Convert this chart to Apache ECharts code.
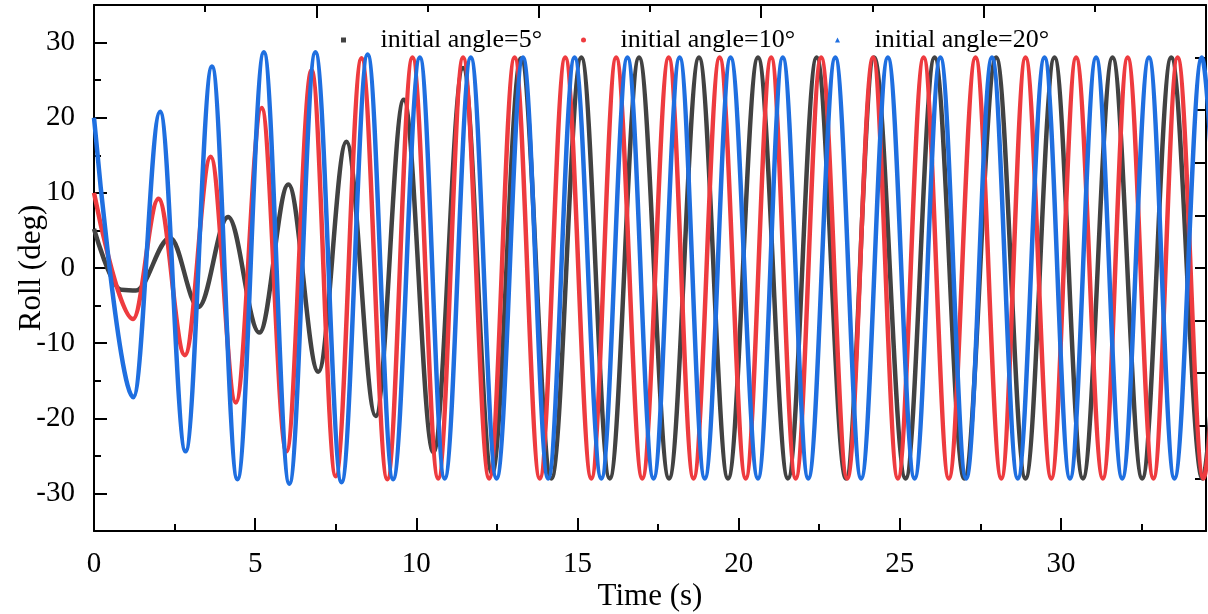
<!DOCTYPE html>
<html>
<head>
<meta charset="utf-8">
<script src="https://cdn.jsdelivr.net/npm/echarts@6/dist/echarts.min.js"></script>
<style>
html,body{margin:0;padding:0;background:#fff;}
#chart{width:1208px;height:614px;}
</style>
</head>
<body>
<div id="chart"></div>
<script>
// ---- data (time s, roll deg) : extrema ----
const seriesNames = ['initial angle=5°', 'initial angle=10°', 'initial angle=20°'];
const angle5 = [[0,5.2],[0.85,-2.9],[1.3,-3.0],[2.36,4.0],[3.24,-5.2],[4.16,6.8],[5.13,-8.6],[6.03,11.1],[6.96,-13.8],[7.83,16.8],[8.74,-19.7],[9.61,22.4],[10.53,-24.5],[11.45,26.6],[12.35,-27.3],[13.25,27.9],[14.19,-28],[15.12,28],[16.0,-28],[16.91,28],[17.84,-28],[18.77,28],[19.67,-28],[20.6,28],[21.53,-28],[22.42,28],[23.33,-28],[24.2,28],[25.18,-28],[26.08,28],[27.0,-28],[27.99,28],[28.9,-28],[29.8,28],[30.68,-28],[31.6,28],[32.52,-28],[33.42,28],[34.39,-28],[35.2,28]];
const angle10 = [[0,10],[1.21,-6.8],[2.0,9.2],[2.82,-11.6],[3.62,14.8],[4.40,-17.9],[5.2,21.3],[5.97,-24.4],[6.75,26.3],[7.5,-27.7],[8.3,27.9],[9.1,-28.1],[9.88,28],[10.68,-28],[11.45,28],[12.26,-28],[13.05,28],[13.83,-28],[14.62,28],[15.43,-28],[16.2,28],[17.01,-28],[17.83,28],[18.6,-28],[19.41,28],[20.22,-28],[21.01,28],[21.77,-28],[22.56,28],[23.37,-28],[24.17,28],[24.94,-28],[25.74,28],[26.52,-28],[27.35,28],[28.15,-28],[28.9,28],[29.7,-28],[30.47,28],[31.3,-28],[32.07,28],[32.87,-28],[33.62,28],[34.42,-28],[35.2,28]];
const angle20 = [[0,20],[1.22,-17.2],[2.05,20.8],[2.84,-24.4],[3.66,26.8],[4.45,-28.1],[5.27,28.7],[6.06,-28.7],[6.87,28.7],[7.68,-28.5],[8.49,28.4],[9.28,-28.1],[10.11,28],[10.88,-28],[11.69,28],[12.49,-28],[13.31,28],[14.09,-28],[14.91,28],[15.74,-28],[16.55,28],[17.36,-28],[18.17,28],[18.95,-28],[19.75,28],[20.6,-28],[21.37,28],[22.16,-28],[23.0,28],[23.8,-28],[24.63,28],[25.46,-28],[26.26,28],[27.06,-28],[27.86,28],[28.66,-28],[29.49,28],[30.28,-28],[31.09,28],[31.9,-28],[32.73,28],[33.52,-28],[34.37,28],[35.1,-28]];

const xMajorTicks = [0, 5, 10, 15, 20, 25, 30];
const xMinorTicks = [2.5, 7.5, 12.5, 17.5, 22.5, 27.5, 32.5];
const yMajorTicks = [-30, -20, -10, 0, 10, 20, 30];
const yMinorTicks = [-25, -15, -5, 5, 15, 25];
const rightTicks = [1, 2, 3, 4, 5, 6, 7, 8, 9];

// ---- styles ----
const FONT = 'Liberation Serif';
const colors = ['#424242', '#ee3b3f', '#1f6fe0'];
const axisLineStyle = { color: '#000', width: 2 };
const legendLefts = [341, 581, 835];
const legendIcons = ['path://M0,0L10,0L10,10L0,10Z', 'circle', 'path://M5,0L10,10L0,10Z'];
const GRID = { left: 94, right: 2, top: 5, bottom: 83 };
const invisibleLabel = { show: true, color: 'rgba(0,0,0,0)', fontSize: 8 };

const chart = echarts.init(document.getElementById('chart'), null, { renderer: 'canvas' });

function hiddenAxisBase(extra) {
  return Object.assign({
    type: 'value',
    splitLine: { show: false },
    axisLabel: { show: false },
    axisLine: { show: false, onZero: false },
    nameMoveOverlap: false
  }, extra);
}

const option = {
  animation: false,
  backgroundColor: '#fff',
  grid: [
    Object.assign({ containLabel: false, outerBoundsMode: 'none' }, GRID),
    // second grid with the same rectangle, only for the top frame ticks
    Object.assign({ containLabel: false, outerBoundsMode: 'none' }, GRID)
  ],
  legend: seriesNames.map((n, i) => ({
    left: legendLefts[i], top: 27, padding: 0,
    itemWidth: 64, itemHeight: 5,
    textStyle: { fontFamily: FONT, fontSize: 26, color: '#000' },
    data: [{ name: n, icon: legendIcons[i] }]
  })),
  xAxis: [
    {
      type: 'value', gridIndex: 0, position: 'bottom', min: 0, max: 34.5,
      name: 'Time (s)', nameLocation: 'middle', nameGap: 50, nameMoveOverlap: false,
      nameTextStyle: { fontFamily: FONT, fontSize: 31, color: '#000' },
      axisLine: { show: true, onZero: false, lineStyle: axisLineStyle },
      axisTick: { show: true, inside: true, length: 13, customValues: xMajorTicks, lineStyle: axisLineStyle },
      axisLabel: { show: true, customValues: xMajorTicks, margin: 19, fontFamily: FONT, fontSize: 29, color: '#000' },
      splitLine: { show: false }
    },
    hiddenAxisBase({
      gridIndex: 0, position: 'bottom', min: 0, max: 34.5,
      axisTick: { show: true, inside: true, length: 7, customValues: xMinorTicks, lineStyle: axisLineStyle }
    }),
    // top frame axis: long ticks every 2 units, short minor ticks between
    {
      type: 'value', gridIndex: 1, position: 'top', min: 0, max: 10, interval: 2,
      zlevel: 1, z: 10,
      axisLine: { show: true, onZero: false, lineStyle: axisLineStyle },
      axisTick: { show: true, inside: true, length: 13, lineStyle: axisLineStyle },
      minorTick: { show: true, splitNumber: 2, length: 7, lineStyle: axisLineStyle },
      axisLabel: invisibleLabel,
      splitLine: { show: false }, minorSplitLine: { show: false }
    }
  ],
  yAxis: [
    {
      type: 'value', gridIndex: 0, position: 'left', min: -35, max: 35,
      name: 'Roll (deg)', nameLocation: 'middle', nameGap: 47, nameMoveOverlap: false,
      nameTextStyle: { fontFamily: FONT, fontSize: 31, color: '#000' },
      axisLine: { show: true, onZero: false, lineStyle: axisLineStyle },
      axisTick: { show: true, inside: true, length: 13, customValues: yMajorTicks, lineStyle: axisLineStyle },
      axisLabel: { show: true, customValues: yMajorTicks, margin: 19, fontFamily: FONT, fontSize: 29, color: '#000' },
      splitLine: { show: false }
    },
    hiddenAxisBase({
      gridIndex: 0, position: 'right', min: 0, max: 10,
      axisLine: { show: true, onZero: false, lineStyle: axisLineStyle },
      axisTick: { show: true, inside: true, length: 11, customValues: rightTicks, lineStyle: axisLineStyle }
    }),
    hiddenAxisBase({
      gridIndex: 0, position: 'left', min: -35, max: 35,
      axisTick: { show: true, inside: true, length: 7, customValues: yMinorTicks, lineStyle: axisLineStyle }
    }),
    // invisible partner axis for the second grid
    {
      type: 'value', gridIndex: 1, position: 'left', min: 0, max: 1,
      axisLine: { show: false, onZero: false }, axisTick: { show: false },
      axisLabel: { show: false }, splitLine: { show: false }
    }
  ],
  series: [angle5, angle10, angle20].map((d, i) => ({
    name: seriesNames[i],
    type: 'line',
    xAxisIndex: 0, yAxisIndex: 0,
    data: d,
    symbol: 'none',
    smooth: 0.36,
    smoothMonotone: 'x',
    clip: true,
    color: colors[i],
    lineStyle: { color: colors[i], width: 4.5 },
    z: 2 + i
  }))
};

chart.setOption(option);
</script>
</body>
</html>
